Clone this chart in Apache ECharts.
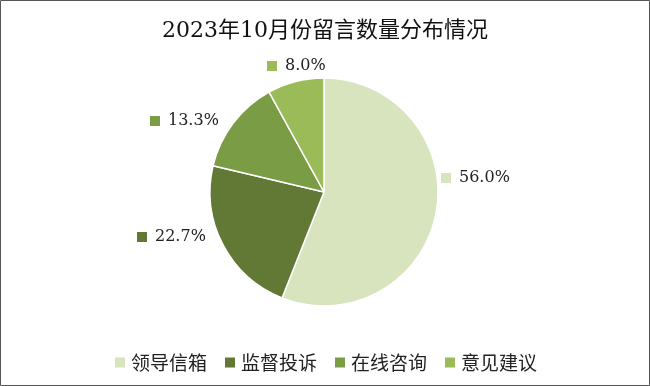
<!DOCTYPE html>
<html><head><meta charset="utf-8">
<script src="https://cdn.jsdelivr.net/npm/echarts@6/dist/echarts.min.js"></script>
<style>html,body{margin:0;padding:0;background:#fff}#c{width:650px;height:386px}</style>
</head><body><div id="c"></div>
<script>
const categories = ['领导信箱','监督投诉','在线咨询','意见建议'];
const values = [56.0, 22.7, 13.3, 8.0];
const colors = ['#d7e4bd','#627935','#799c45','#9bbb59'];
const titleText = '2023年10月份留言数量分布情况';

const labelPos = [[441,178],[137,237],[150,121],[267,66]];
const serif = '"DejaVu Serif","Noto Sans CJK SC",serif';
const chart = echarts.init(document.getElementById('c'));
const data = categories.map((n,i)=>({name:n,value:values[i],itemStyle:{color:colors[i]},
  label:{formatter:'{s'+i+'|}{g|}{t|'+values[i].toFixed(1)+'%}'}}));
const rich = {t:{fontFamily:serif,fontSize:16,color:'#222'},g:{width:8}};
colors.forEach((c,i)=>{rich['s'+i]={backgroundColor:c,width:10,height:10};});
chart.setOption({
  animation:false,
  graphic:[{type:'rect',shape:{x:0.5,y:0.5,width:649,height:385},style:{fill:'none',stroke:'#555',lineWidth:1}}],
  title:{text:titleText,left:'center',top:15,textStyle:{fontFamily:serif,fontSize:22,fontWeight:'normal',color:'#111'}},
  legend:{bottom:9,left:'center',itemWidth:12,itemHeight:12,itemGap:16,icon:'rect',
    textStyle:{fontSize:19,color:'#222',fontFamily:'"Noto Sans CJK SC",sans-serif'},data:categories},
  series:[{type:'pie',center:[324,192],radius:[0,114],startAngle:90,clockwise:true,
    itemStyle:{borderColor:'#fff',borderWidth:1.5},
    label:{show:true,position:'outside',rich:rich},
    labelLine:{show:false},
    labelLayout:function(p){const q=labelPos[p.dataIndex];return {x:q[0],y:q[1],align:'left',verticalAlign:'middle'};},
    data:data}]
});
</script></body></html>
